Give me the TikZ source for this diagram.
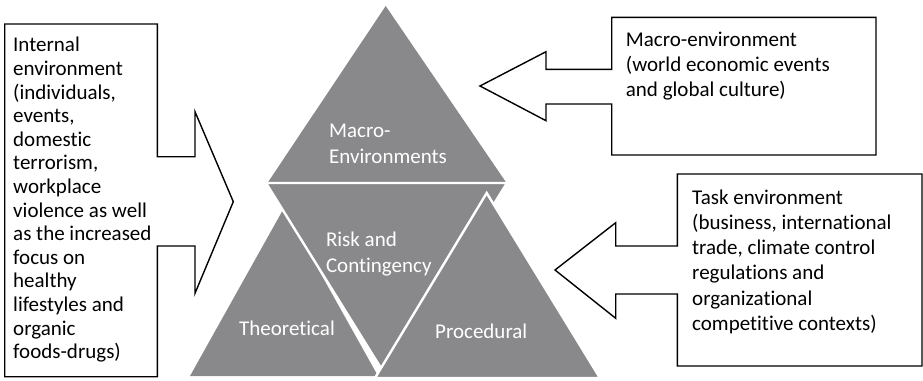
\documentclass[tikz,border=0pt]{standalone}
\usepackage{fontspec}
\setmainfont{Carlito}[Ligatures=NoCommon]
\definecolor{trigray}{RGB}{137,137,139}
\begin{document}
\begin{tikzpicture}[x=1pt,y=-1pt,
  trifill/.style={fill=trigray},
  triedge/.style={fill=trigray, draw=white, line width=2.4pt, line join=miter},
  callout/.style={draw=black, line width=1.4pt, fill=white, line join=miter},
  lbl/.style={anchor=north west, inner sep=0pt, align=left},
  trilbl/.style={lbl, text=white, font=\fontsize{21}{26}\selectfont}]
\useasboundingbox (0,0) rectangle (923,380);

% callouts
\draw[callout] (4.7,24) -- (157.3,24) -- (157.3,156.7) -- (195,156.7) -- (195,111.7)
  -- (233.3,201.7) -- (195,293.3) -- (195,246) -- (157.3,246) -- (157.3,376.7)
  -- (4.7,376.7) -- cycle;
\draw[callout] (611.7,17.3) -- (876,17.3) -- (876,155) -- (611.7,155) -- (611.7,104)
  -- (546,104) -- (546,120.7) -- (480,86) -- (546,51.7) -- (546,69.3)
  -- (611.7,69.3) -- cycle;
\draw[callout] (677.3,174) -- (922,174) -- (922,366) -- (677.3,366) -- (677.3,294)
  -- (615.7,294) -- (615.7,318.3) -- (555,270) -- (615.7,222.7) -- (615.7,246)
  -- (677.3,246) -- cycle;

% triangles
\fill[trifill] (385.7,6) -- (267.5,183) -- (506.5,183) -- cycle;
\fill[trifill] (284,208) -- (190,376) -- (378,376) -- cycle;
\filldraw[triedge] (266,183) -- (507,183) -- (386.5,377) -- cycle;
\filldraw[triedge] (486.7,193) -- (375,378) -- (600,378) -- cycle;

% texts
\node[lbl, font=\fontsize{21}{23.6}\selectfont] (internal) at (13,35.2)
  {\strut Internal\\environment\\(individuals,\\events,\\domestic\\terrorism,\\workplace\\violence as well\\as the increased\\focus on\\healthy\\lifestyles and\\organic\\foods-drugs)};
\node[lbl, font=\fontsize{21}{25.3}\selectfont] (macroenv) at (625.7,28.3)
  {\strut Macro-environment\\(world economic events\\and global culture)};
\node[lbl, font=\fontsize{21}{25.2}\selectfont] (taskenv) at (692,186.4)
  {\strut Task environment\\(business, international\\trade, climate control\\regulations and\\organizational\\competitive contexts)};

\node[trilbl] (macro) at (329,119) {\strut Macro-\\Environments};
\node[trilbl] (risk) at (325.8,228.5) {\strut Risk and\\Contingency};
\node[trilbl] (theo) at (239,316.8) {\strut Theoretical};
\node[trilbl] (proc) at (435,320.1) {\strut Procedural};
\end{tikzpicture}
\end{document}
